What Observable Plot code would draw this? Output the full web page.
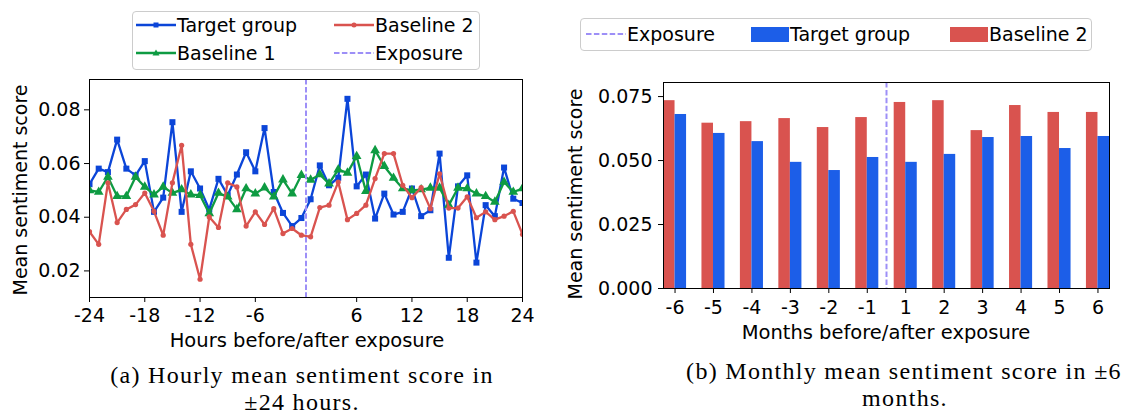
<!DOCTYPE html>
<html><head><meta charset="utf-8">
<script src="https://cdn.jsdelivr.net/npm/d3@7"></script>
<script src="https://cdn.jsdelivr.net/npm/@observablehq/plot@0.6"></script>
<style>
body{margin:0;background:#fff;}
#root{position:relative;width:1147px;height:413px;overflow:hidden;font-family:"DejaVu Sans",sans-serif;color:#000;}
.chart{position:absolute;top:0;}
.ylab{position:absolute;font-size:19px;white-space:nowrap;transform:translate(-50%,-50%) rotate(-90deg);}
.xlab{position:absolute;font-size:19.5px;white-space:nowrap;transform:translate(-50%,-50%);}
.cap{position:absolute;font-family:"Liberation Serif",serif;font-size:24px;letter-spacing:1.3px;white-space:nowrap;transform:translate(-50%,-50%);}
.legend{position:absolute;border:1px solid #cccccc;border-radius:4px;background:rgba(255,255,255,0.8);box-sizing:border-box;}
.item{position:absolute;display:flex;align-items:center;font-size:19px;white-space:nowrap;transform:translateY(-50%);}
.item svg{display:block;}
</style></head><body><div id="root"></div>
<script>
// ---------- data ----------
const hours = [-24,-23,-22,-21,-20,-19,-18,-17,-16,-15,-14,-13,-12,-11,-10,-9,-8,-7,-6,-5,-4,-3,-2,-1,
               1,2,3,4,5,6,7,8,9,10,11,12,13,14,15,16,17,18,19,20,21,22,23,24];
const hourTicks = [-24,-18,-12,-6,6,12,18,24];
const targetHourly = [0.0523,0.0581,0.0568,0.0689,0.0581,0.0556,0.0609,0.0420,0.0473,0.0754,0.0420,0.0571,
                      0.0507,0.0429,0.0543,0.0482,0.0559,0.0642,0.0571,0.0732,0.0494,0.0416,0.0367,0.0397,
                      0.0467,0.0593,0.0519,0.0547,0.0841,0.0515,0.0559,0.0395,0.0488,0.0410,0.0420,0.0507,
                      0.0404,0.0426,0.0637,0.0249,0.0515,0.0556,0.0231,0.0445,0.0404,0.0585,0.0469,0.0453];
const baseline1Hourly = [0.0500,0.0494,0.0550,0.0478,0.0478,0.0550,0.0513,0.0484,0.0513,0.0490,0.0503,0.0484,
                         0.0482,0.0414,0.0490,0.0476,0.0429,0.0507,0.0488,0.0510,0.0476,0.0540,0.0488,0.0557,
                         0.0539,0.0559,0.0525,0.0577,0.0565,0.0627,0.0497,0.0649,0.0590,0.0546,0.0507,0.0500,
                         0.0503,0.0509,0.0509,0.0445,0.0509,0.0507,0.0488,0.0478,0.0457,0.0531,0.0494,0.0507];
const baseline2Hourly = [0.0346,0.0299,0.0528,0.0380,0.0429,0.0447,0.0490,0.0422,0.0333,0.0528,0.0668,0.0299,
                         0.0169,0.0401,0.0362,0.0528,0.0513,0.0367,0.0420,0.0373,0.0432,0.0339,0.0358,0.0333,
                         0.0327,0.0436,0.0445,0.0531,0.0391,0.0414,0.0445,0.0544,0.0637,0.0637,0.0519,0.0473,
                         0.0510,0.0432,0.0562,0.0434,0.0434,0.0476,0.0398,0.0420,0.0391,0.0404,0.0422,0.0336];
const hourlyYTicks = [0.02,0.04,0.06,0.08];

const months = [-6,-5,-4,-3,-2,-1,1,2,3,4,5,6];
const monthTarget = [0.0680,0.0606,0.0574,0.0493,0.0461,0.0512,0.0493,0.0524,0.0590,0.0594,0.0547,0.0594];
const monthBaseline2 = [0.0734,0.0646,0.0652,0.0664,0.0629,0.0668,0.0727,0.0734,0.0617,0.0715,0.0688,0.0688];
const monthlyYTicks = [0,0.025,0.05,0.075];

// ---------- styles ----------
const BLUE="#0b45d8", GREEN="#0e9b42", RED="#d9534f", BARBLUE="#1c5ee8", EXPO="#9d8ff7";
const BW = 0.3;
const FONT = {fontFamily:"DejaVu Sans",fontSize:"19px",color:"#000",background:"none",overflow:"visible"};
const root = document.getElementById("root");

// ---------- left: hourly ----------
const rows = hours.map((h,i)=>({i,h,t:targetHourly[i],b1:baseline1Hourly[i],b2:baseline2Hourly[i]}));
const exposureHour = (hours.indexOf(-1)+hours.indexOf(1))/2;
const left = Plot.plot({
  width:540,height:360,marginLeft:89,marginRight:18,marginTop:79,marginBottom:63,
  style:FONT,
  x:{type:"linear",domain:[0,hours.length-1],label:null},
  y:{domain:[0.0101,0.0913],label:null},
  marks:[
    Plot.line(rows,{x:"i",y:"t",stroke:BLUE,strokeWidth:2.3,clip:true}),
    Plot.dot(rows,{x:"i",y:"t",symbol:"square",fill:BLUE,r:3.4,clip:true}),
    Plot.line(rows,{x:"i",y:"b1",stroke:GREEN,strokeWidth:2.3,clip:true}),
    Plot.dot(rows,{x:"i",y:"b1",symbol:"triangle",fill:GREEN,r:3.6,clip:true}),
    Plot.line(rows,{x:"i",y:"b2",stroke:RED,strokeWidth:2.3,clip:true}),
    Plot.dot(rows,{x:"i",y:"b2",symbol:"circle",fill:RED,r:2.6,clip:true}),
    Plot.ruleX([exposureHour],{stroke:EXPO,strokeWidth:2,strokeDasharray:"5.5,2.4"}),
    Plot.frame({stroke:"#000",strokeWidth:1}),
    Plot.axisX({ticks:hourTicks.map(h=>hours.indexOf(h)),tickFormat:i=>String(hours[i]),tickSize:5,tickPadding:6,label:null}),
    Plot.axisY({ticks:hourlyYTicks,tickFormat:d3.format(".2f"),tickSize:5,tickPadding:4,label:null})
  ]
});
left.classList.add("chart"); left.style.left="0px";
root.appendChild(left);

// ---------- right: monthly ----------
const mrows = months.map((m,i)=>({i,m,t:monthTarget[i],b2:monthBaseline2[i]}));
const exposureMonth = (months.indexOf(-1)+months.indexOf(1))/2;
const right = Plot.plot({
  width:587,height:360,marginLeft:103,marginRight:38,marginTop:82,marginBottom:72,
  style:FONT,
  x:{type:"linear",domain:[-BW,months.length-1+BW],label:null},
  y:{domain:[0,0.0805],label:null},
  marks:[
    Plot.rect(mrows,{x1:d=>d.i-BW,x2:d=>d.i,y1:0,y2:"b2",fill:RED}),
    Plot.rect(mrows,{x1:d=>d.i,x2:d=>d.i+BW,y1:0,y2:"t",fill:BARBLUE}),
    Plot.ruleX([exposureMonth],{stroke:EXPO,strokeWidth:2,strokeDasharray:"5.5,2.4"}),
    Plot.frame({stroke:"#000",strokeWidth:1}),
    Plot.axisX({ticks:months.map((m,i)=>i),tickFormat:i=>String(months[i]),tickSize:5,tickPadding:7,label:null}),
    Plot.axisY({ticks:monthlyYTicks,tickFormat:d3.format(".3f"),tickSize:5,tickPadding:6,label:null})
  ]
});
right.classList.add("chart"); right.style.left="560px";
root.appendChild(right);

// ---------- labels ----------
function addDiv(cls,text,x,y){const d=document.createElement("div");d.className=cls;d.textContent=text;d.style.left=x+"px";d.style.top=y+"px";root.appendChild(d);return d;}
addDiv("ylab","Mean sentiment score",20,190);
addDiv("ylab","Mean sentiment score",575,194);
addDiv("xlab","Hours before/after exposure",307,340);
addDiv("xlab","Months before/after exposure",886,332);
addDiv("cap","(a) Hourly mean sentiment score in",302,375);
addDiv("cap","\u00b124 hours.",302,402);
addDiv("cap","(b) Monthly mean sentiment score in \u00b16",904,371);
addDiv("cap","months.",905,398);

// ---------- legends ----------
function box(x,y,w,h){const d=document.createElement("div");d.className="legend";Object.assign(d.style,{left:x+"px",top:y+"px",width:w+"px",height:h+"px"});root.appendChild(d);}
function item(x,y,swatch,text){
  const d=document.createElement("div");d.className="item";d.style.left=x+"px";d.style.top=y+"px";
  d.innerHTML=swatch;const s=document.createElement("span");s.textContent=text;s.style.marginLeft="1px";d.appendChild(s);root.appendChild(d);}
const lineSw=(c,marker)=>`<svg width="40" height="16"><line x1="0" y1="8" x2="40" y2="8" stroke="${c}" stroke-width="2.3"/>${marker}</svg>`;
const dashSw=`<svg width="40" height="16"><line x1="0" y1="8" x2="40" y2="8" stroke="${EXPO}" stroke-width="2" stroke-dasharray="5.5,2.4"/></svg>`;
const patch=c=>`<svg width="38" height="15"><rect x="0" y="0" width="38" height="15" fill="${c}"/></svg>`;
box(132,11,348,59);
item(136,25,lineSw(BLUE,`<rect x="17.5" y="5.5" width="5" height="5" fill="${BLUE}"/>`),"Target group");
item(136,53,lineSw(GREEN,`<path d="M20,4.5 L23.5,10.5 L16.5,10.5Z" fill="${GREEN}"/>`),"Baseline 1");
item(334,25,lineSw(RED,`<circle cx="20" cy="8" r="2.5" fill="${RED}"/>`),"Baseline 2");
item(334,53,dashSw,"Exposure");
box(580,18,512,33);
item(586,34,dashSw,"Exposure");
item(751,34,patch(BARBLUE),"Target group");
item(950,34,patch(RED),"Baseline 2");
</script></body></html>
